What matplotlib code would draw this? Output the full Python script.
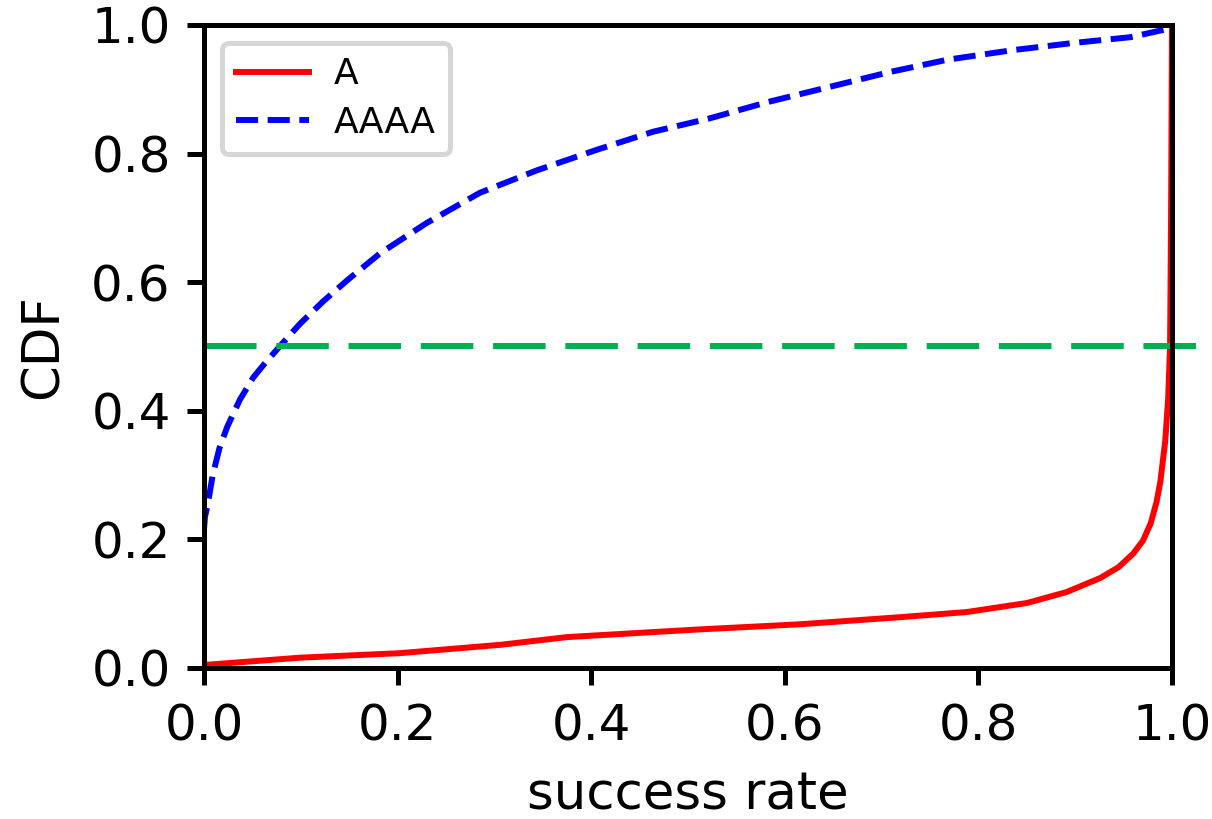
import matplotlib
matplotlib.use("Agg")
import matplotlib.pyplot as plt

# success rate CDFs
a_x = [0.0, 0.003, 0.099, 0.202, 0.306, 0.375, 0.443, 0.512, 0.616, 0.719,
       0.788, 0.850, 0.891, 0.926, 0.945, 0.960, 0.970, 0.978, 0.984, 0.988,
       0.993, 0.996, 0.998, 0.999, 1.0]
a_y = [0.003, 0.005, 0.016, 0.023, 0.036, 0.048, 0.054, 0.060, 0.068, 0.079,
       0.087, 0.101, 0.118, 0.140, 0.157, 0.178, 0.198, 0.225, 0.258, 0.290,
       0.353, 0.418, 0.500, 0.700, 1.0]

aaaa_x = [0.0, 0.001, 0.004, 0.009, 0.016, 0.024, 0.037, 0.051, 0.063, 0.077,
          0.099, 0.123, 0.148, 0.182, 0.230, 0.285, 0.344, 0.406, 0.464, 0.523,
          0.582, 0.647, 0.709, 0.768, 0.836, 0.898, 0.957, 0.996, 1.0]
aaaa_y = [0.215, 0.235, 0.255, 0.300, 0.342, 0.375, 0.417, 0.452, 0.474, 0.498,
          0.535, 0.570, 0.603, 0.645, 0.692, 0.739, 0.774, 0.806, 0.834, 0.855,
          0.880, 0.904, 0.927, 0.946, 0.961, 0.972, 0.981, 0.994, 1.0]

median_y = 0.5
median_x = [0.0, 1.05]

ticks = [0.0, 0.2, 0.4, 0.6, 0.8, 1.0]

fig = plt.figure(figsize=(12.12, 8.19), dpi=100)
ax = fig.add_axes([0.1683, 0.1844, 0.7987, 0.7851])

lw = 4.3
ax.plot(a_x, a_y, color="#ff0000", lw=lw, label="A")
ax.plot(aaaa_x, aaaa_y, color="#0000ff", lw=lw, ls="--", label="AAAA")
ax.plot(median_x, [median_y, median_y], color="#00b050", lw=lw,
        dashes=(8.8, 3.3), clip_on=False)

ax.set_xlim(0, 1)
ax.set_ylim(0, 1)
ax.set_xticks(ticks)
ax.set_yticks(ticks)
ax.set_xticklabels([f"{t:.1f}" for t in ticks])
ax.set_yticklabels([f"{t:.1f}" for t in ticks])
ax.tick_params(labelsize=36, length=12, width=3.6)
ax.tick_params(axis="x", pad=13)
ax.tick_params(axis="y", pad=12)
for s in ax.spines.values():
    s.set_linewidth(3.6)

ax.set_xlabel("success rate", fontsize=37, labelpad=14)
ax.set_ylabel("CDF", fontsize=37, labelpad=16)

leg = ax.legend(loc="upper left", fontsize=26, borderaxespad=0.5,
                handletextpad=0.7, labelspacing=0.4)
leg.get_frame().set_linewidth(3.6)
leg.get_frame().set_edgecolor("0.8")

fig.savefig("out.png", dpi=100)
